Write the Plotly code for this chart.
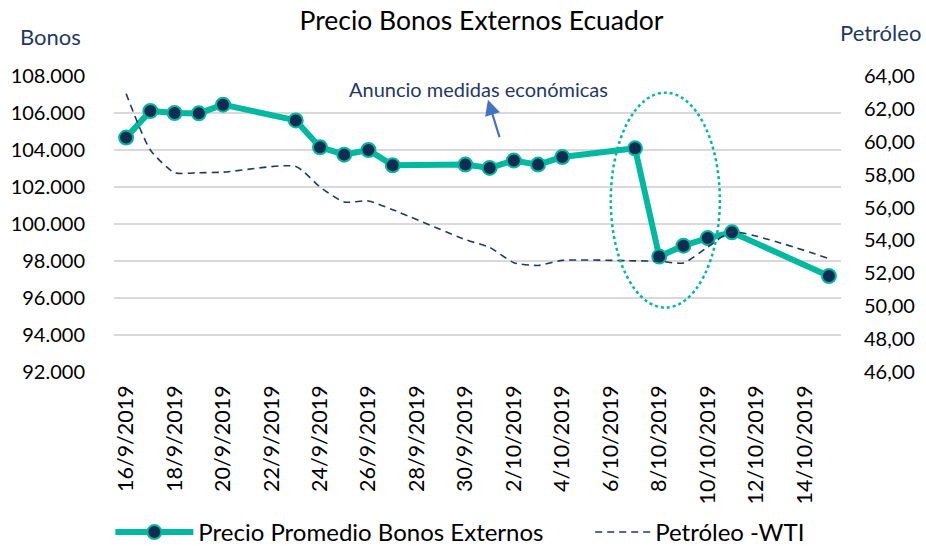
import plotly.graph_objects as go

fechas = ["2019-09-16", "2019-09-17", "2019-09-18", "2019-09-19", "2019-09-20",
          "2019-09-23", "2019-09-24", "2019-09-25", "2019-09-26", "2019-09-27",
          "2019-09-30", "2019-10-01", "2019-10-02", "2019-10-03", "2019-10-04",
          "2019-10-07", "2019-10-08", "2019-10-09", "2019-10-10", "2019-10-11",
          "2019-10-15"]
bonos = [104670, 106110, 106000, 105980, 106450,
         105600, 104150, 103750, 104000, 103170,
         103210, 103030, 103430, 103210, 103620,
         104090, 98240, 98830, 99240, 99550,
         97190]
petroleo = [62.93, 59.50, 58.12, 58.12, 58.15,
            58.50, 57.25, 56.34, 56.40, 55.87,
            54.05, 53.58, 52.65, 52.48, 52.79,
            52.76, 52.74, 52.63, 53.60, 54.51,
            52.90]

FONT = "Lato"
TEAL = "#00B99E"
NAVY = "#0F2D52"
DARKBLUE = "#1F3864"

fig = go.Figure()
fig.add_trace(go.Scatter(
    x=fechas, y=bonos, name="Precio Promedio Bonos Externos",
    mode="lines+markers",
    line=dict(color=TEAL, width=6),
    marker=dict(color=NAVY, size=14, line=dict(color=TEAL, width=2)),
    yaxis="y", legend="legend",
))
fig.add_trace(go.Scatter(
    x=fechas, y=petroleo, name="Petróleo -WTI",
    mode="lines",
    line=dict(color=DARKBLUE, width=1.6, dash="7px,5px", shape="spline", smoothing=0.6),
    yaxis="y2", legend="legend2",
))

fig.update_layout(
    width=926, height=546,
    margin=dict(l=114, r=85, t=76, b=174, autoexpand=False),
    paper_bgcolor="white", plot_bgcolor="white",
    separators=",.",
    font=dict(family=FONT, size=20, color="black"),
    title=dict(text="Precio Bonos Externos Ecuador", x=0.52, xanchor="center",
               y=1 - 21 / 546, yanchor="middle",
               font=dict(family=FONT, size=26.5, color="black")),
    xaxis=dict(
        type="date",
        range=["2019-09-15 12:00", "2019-10-15 12:00"],
        tick0="2019-09-16", dtick=2 * 86400000,
        tickformat="%-d/%-m/%Y", tickangle=-90,
        showgrid=False, zeroline=False, showline=False,
        ticks="", ticklabelstandoff=8, automargin=False,
        tickfont=dict(family=FONT, size=21.5, color="black"),
    ),
    yaxis=dict(
        range=[92000, 108000], dtick=2000, tickformat=",.0f",
        showgrid=True, gridcolor="#D9D9D9", gridwidth=1.5,
        zeroline=False, showline=False, ticks="", ticklabelstandoff=28,
        automargin=False,
        tickfont=dict(family=FONT, size=20, color="black"),
    ),
    yaxis2=dict(
        range=[46, 64], dtick=2, tickformat=".2f",
        overlaying="y", side="right",
        showgrid=False, zeroline=False, showline=False, ticks="",
        ticklabelstandoff=22, automargin=False,
        tickfont=dict(family=FONT, size=20, color="black"),
    ),
    showlegend=True,
    legend=dict(orientation="h", x=-0.005, xanchor="left", y=-0.542, yanchor="middle",
                font=dict(family=FONT, size=24, color="black"),
                itemwidth=78, bgcolor="rgba(0,0,0,0)"),
    legend2=dict(orientation="h", x=0.655, xanchor="left", y=-0.542, yanchor="middle",
                 font=dict(family=FONT, size=24, color="black"),
                 itemwidth=55, bgcolor="rgba(0,0,0,0)"),
)

fig.add_annotation(
    text="Anuncio medidas económicas", xref="paper", yref="paper",
    x=0.5007, y=0.955, xanchor="center", yanchor="middle", showarrow=False,
    font=dict(family=FONT, size=20, color=DARKBLUE),
)
fig.add_annotation(
    text="", xref="paper", yref="paper", x=0.5144, y=0.920,
    ax=12, ay=39, showarrow=True, arrowhead=2, arrowsize=1.4, arrowwidth=2.2,
    arrowcolor="#4472C4",
)
fig.add_annotation(
    text="Bonos", xref="paper", yref="paper", x=-0.0867, y=1.134,
    xanchor="center", yanchor="middle", showarrow=False,
    font=dict(family=FONT, size=22, color=DARKBLUE),
)
fig.add_annotation(
    text="Petróleo", xref="paper", yref="paper", x=1.055, y=1.148,
    xanchor="center", yanchor="middle", showarrow=False,
    font=dict(family=FONT, size=22, color=DARKBLUE),
)
fig.add_shape(
    type="circle", xref="x", yref="y",
    x0="2019-10-06 00:00", x1="2019-10-10 12:00", y0=95480, y1=107100,
    line=dict(color=TEAL, width=2.5, dash="dot"),
)

fig.write_html("out.html",
               config={"displayModeBar": False},
               post_script="document.body.style.margin='0';document.body.style.overflow='hidden';")
